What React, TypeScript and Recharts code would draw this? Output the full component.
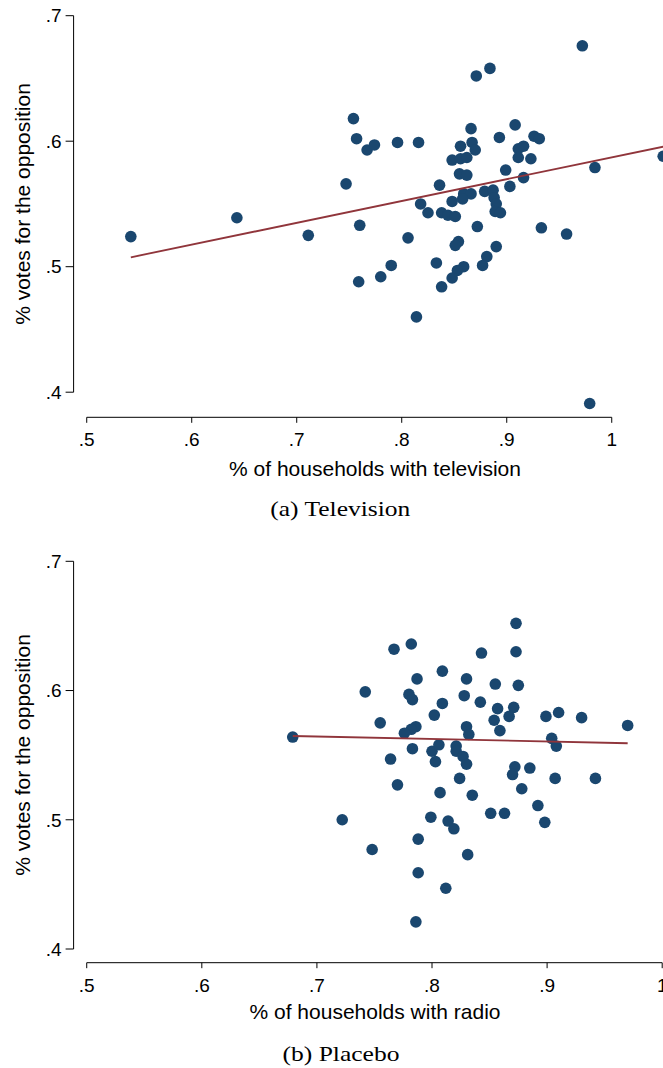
import React from 'react';
import { ScatterChart, Scatter, XAxis, YAxis, ReferenceLine, Label } from 'recharts';

// Panel (a): share of households with television vs opposition vote share
const tvShare = [
  0.542, 0.643, 0.711, 0.747, 0.754, 0.757, 0.767, 0.774, 0.796, 0.760,
  0.759, 0.780, 0.790, 0.972, 0.871, 0.884, 0.816, 0.866, 0.908, 0.893,
  0.926, 0.931, 0.856, 0.867, 0.870, 0.848, 0.856, 0.862, 0.911, 0.916,
  0.911, 0.923, 0.984, 1.049, 0.855, 0.862, 0.899, 0.916, 0.836, 0.903,
  0.859, 0.866, 0.858, 0.879, 0.887, 0.888, 0.890, 0.889, 0.894, 0.848,
  0.818, 0.825, 0.838, 0.844, 0.851, 0.872, 0.933, 0.957, 0.806, 0.854,
  0.851, 0.890, 0.833, 0.881, 0.877, 0.859, 0.853, 0.848, 0.838, 0.814,
  0.979,
];
const tvVotes = [
  0.524, 0.539, 0.525, 0.566, 0.618, 0.602, 0.593, 0.597, 0.599, 0.533,
  0.488, 0.492, 0.501, 0.676, 0.652, 0.658, 0.599, 0.610, 0.613, 0.603,
  0.604, 0.602, 0.596, 0.599, 0.593, 0.585, 0.586, 0.587, 0.594, 0.596,
  0.587, 0.586, 0.579, 0.588, 0.574, 0.573, 0.577, 0.571, 0.565, 0.564,
  0.558, 0.558, 0.554, 0.560, 0.561, 0.555, 0.550, 0.544, 0.543, 0.552,
  0.550, 0.543, 0.543, 0.541, 0.540, 0.532, 0.531, 0.526, 0.523, 0.520,
  0.517, 0.516, 0.503, 0.508, 0.501, 0.500, 0.497, 0.491, 0.484, 0.460,
  0.391,
];
const tvFitShare = [0.542, 1.049];
const tvFitVotes = [0.5075, 0.5956];

// Panel (b): share of households with radio (placebo)
const radioShare = [
  0.679, 0.767, 0.782, 0.809, 0.787, 0.742, 0.780, 0.783, 0.809, 0.802,
  0.755, 0.786, 0.782, 0.776, 0.783, 0.764, 0.800, 0.806, 0.803, 0.770,
  0.807, 0.722, 0.799, 0.814, 0.819, 0.748, 0.788, 0.788, 0.812, 0.786,
  0.873, 0.843, 0.873, 0.830, 0.855, 0.875, 0.828, 0.842, 0.857, 0.871,
  0.854, 0.867, 0.899, 0.910, 0.930, 0.970, 0.859, 0.830, 0.832, 0.904,
  0.908, 0.821, 0.821, 0.827, 0.830, 0.872, 0.870, 0.885, 0.824, 0.907,
  0.942, 0.878, 0.835, 0.892, 0.851, 0.863, 0.898, 0.831,
];
const radioVotes = [
  0.564, 0.632, 0.636, 0.615, 0.609, 0.599, 0.597, 0.593, 0.590, 0.581,
  0.575, 0.572, 0.570, 0.567, 0.555, 0.547, 0.553, 0.558, 0.545, 0.527,
  0.521, 0.500, 0.502, 0.499, 0.493, 0.477, 0.485, 0.459, 0.447, 0.421,
  0.652, 0.629, 0.630, 0.609, 0.605, 0.604, 0.596, 0.591, 0.586, 0.587,
  0.577, 0.580, 0.580, 0.583, 0.579, 0.573, 0.569, 0.572, 0.566, 0.563,
  0.557, 0.557, 0.553, 0.549, 0.543, 0.541, 0.535, 0.540, 0.532, 0.532,
  0.532, 0.524, 0.519, 0.511, 0.505, 0.505, 0.498, 0.473,
];
const radioFitShare = [0.679, 0.970];
const radioFitVotes = [0.5648, 0.5592];

const xTickValues = [0.5, 0.6, 0.7, 0.8, 0.9, 1];
const xTickLabels = ['.5', '.6', '.7', '.8', '.9', '1'];
const yTickValues = [0.4, 0.5, 0.6, 0.7];
const yTickLabels = ['.4', '.5', '.6', '.7'];

const yTitle = '% votes for the opposition';
const tvTitle = '% of households with television';
const radioTitle = '% of households with radio';
const captionA = '(a) Television';
const captionB = '(b) Placebo';

const NAVY = '#1a476f';
const MAROON = '#90353b';
const SANS = '"Liberation Sans", Arial, Helvetica, sans-serif';
const SERIF = '"Liberation Serif", "Times New Roman", serif';

const zip = (xs: number[], ys: number[]) => xs.map((x, i) => ({ x, y: ys[i] }));
const fmtX = (v: number) => xTickLabels[xTickValues.indexOf(v)];
const fmtY = (v: number) => yTickLabels[yTickValues.indexOf(v)];

const Dot = (props: any) => {
  const { cx, cy } = props;
  if (cx == null || cy == null) return <g />;
  return <circle cx={cx} cy={cy} r={5.8} fill={NAVY} />;
};
const NoShape = () => <g />;

type PanelProps = {
  top: number;
  height: number;
  marginTop: number;
  marginBottom: number;
  xDomain: [number, number];
  yDomain: [number, number];
  points: { x: number; y: number }[];
  fit: { x: number; y: number }[];
  xTitle: string;
  xTitleY: number;
  yTitleY: number;
};

function Panel(p: PanelProps) {
  const tickStyle = { fill: '#000', fontSize: 19, fontFamily: SANS };
  return (
    <div style={{ position: 'absolute', left: 0, top: p.top, width: 700, height: p.height }}>
      <ScatterChart
        width={700}
        height={p.height}
        margin={{ top: p.marginTop, right: 24, bottom: p.marginBottom, left: 0 }}
      >
        <XAxis
          type="number"
          dataKey="x"
          domain={p.xDomain}
          allowDataOverflow
          ticks={xTickValues}
          tickFormatter={fmtX}
          interval={0}
          axisLine={false}
          tickLine={{ stroke: '#000', strokeWidth: 1 }}
          tickSize={5.5}
          tickMargin={10}
          tick={tickStyle}
          height={40}
        >
          <Label
            content={() => (
              <text x={375} y={p.xTitleY} textAnchor="middle" fontSize={21} fontFamily={SANS} fill="#000">
                {p.xTitle}
              </text>
            )}
          />
        </XAxis>
        <YAxis
          type="number"
          dataKey="y"
          domain={p.yDomain}
          allowDataOverflow
          ticks={yTickValues}
          tickFormatter={fmtY}
          interval={0}
          axisLine={false}
          tickLine={{ stroke: '#000', strokeWidth: 1 }}
          tickSize={8}
          tickMargin={4}
          tick={tickStyle}
          width={73.6}
        >
          <Label
            content={() => (
              <text
                transform={`translate(22.6, ${p.yTitleY}) rotate(-90)`}
                textAnchor="middle"
                dy="0.35em"
                fontSize={21}
                fontFamily={SANS}
                fill="#000"
              >
                {yTitle}
              </text>
            )}
          />
        </YAxis>
        <ReferenceLine
          segment={[{ x: 0.5, y: p.yDomain[0] }, { x: 1, y: p.yDomain[0] }]}
          stroke="#000"
          strokeWidth={1}
          ifOverflow="visible"
        />
        <ReferenceLine
          segment={[{ x: p.xDomain[0], y: 0.4 }, { x: p.xDomain[0], y: 0.7 }]}
          stroke="#000"
          strokeWidth={1}
          ifOverflow="visible"
        />
        <Scatter data={p.points} shape={Dot} isAnimationActive={false} />
        <Scatter
          data={p.fit}
          shape={NoShape}
          line={{ stroke: MAROON, strokeWidth: 1.8 }}
          isAnimationActive={false}
        />
      </ScatterChart>
    </div>
  );
}

export default function App() {
  return (
    <div
      style={{
        position: 'absolute',
        left: 0,
        top: 0,
        width: 663,
        height: 1068,
        overflow: 'hidden',
        background: '#fff',
      }}
    >
      <Panel
        top={0}
        height={500}
        marginTop={15.7}
        marginBottom={42.7}
        xDomain={[0.4875, 1.0612]}
        yDomain={[0.38, 0.7]}
        points={zip(tvShare, tvVotes)}
        fit={zip(tvFitShare, tvFitVotes)}
        xTitle={tvTitle}
        xTitleY={475.5}
        yTitleY={204}
      />
      <Panel
        top={540}
        height={500}
        marginTop={21.3}
        marginBottom={37.3}
        xDomain={[0.4886, 1.012]}
        yDomain={[0.3894, 0.7]}
        points={zip(radioShare, radioVotes)}
        fit={zip(radioFitShare, radioFitVotes)}
        xTitle={radioTitle}
        xTitleY={478.5}
        yTitleY={215}
      />
      <svg
        width={663}
        height={1068}
        style={{ position: 'absolute', left: 0, top: 0, pointerEvents: 'none' }}
      >
        <text
          x={340.3}
          y={516.3}
          textAnchor="middle"
          fontSize={21}
          fontFamily={SERIF}
          fill="#000"
          textLength={140}
          lengthAdjust="spacingAndGlyphs"
        >
          {captionA}
        </text>
        <text
          x={341}
          y={1061.3}
          textAnchor="middle"
          fontSize={21}
          fontFamily={SERIF}
          fill="#000"
          textLength={117}
          lengthAdjust="spacingAndGlyphs"
        >
          {captionB}
        </text>
      </svg>
    </div>
  );
}
